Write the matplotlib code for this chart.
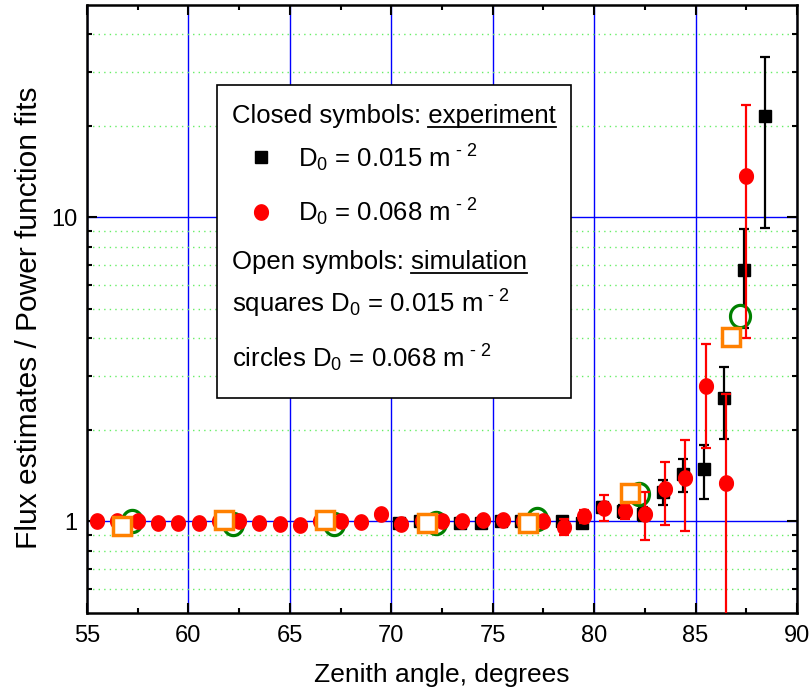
import matplotlib
matplotlib.use("Agg")
import matplotlib.pyplot as plt
from matplotlib.lines import Line2D
from matplotlib.patches import Rectangle
from matplotlib.path import Path
from matplotlib.ticker import FixedLocator, NullFormatter, FixedFormatter
import numpy as np

plt.rcParams["font.family"] = ["Liberation Sans", "DejaVu Sans"]
plt.rcParams["mathtext.fontset"] = "custom"
plt.rcParams["mathtext.rm"] = "Liberation Sans"
plt.rcParams["mathtext.it"] = "Liberation Sans"

# experiment, D0 = 0.015 m^-2 (closed squares)
exp15_x = [70.4, 71.4, 72.4, 73.4, 74.4, 75.4, 76.4, 77.4, 78.4, 79.4,
           80.4, 81.4, 82.4, 83.4, 84.4, 85.4, 86.4, 87.4, 88.4]
exp15_y = [0.99, 1.00, 1.00, 0.99, 0.985, 1.00, 1.00, 1.00, 1.00, 0.985,
           1.12, 1.08, 1.06, 1.25, 1.43, 1.485, 2.55, 6.74, 21.5]
exp15_err = [0.02, 0.02, 0.02, 0.02, 0.02, 0.02, 0.02, 0.02, 0.03, 0.03,
             0.04, 0.05, 0.06, 0.12, 0.18, 0.30, 0.68, 2.4, 12.3]

# experiment, D0 = 0.068 m^-2 (closed circles)
exp68_x = [55.5, 56.5, 57.5, 58.5, 59.5, 60.5, 61.5, 62.5, 63.5, 64.5,
           65.5, 66.5, 67.5, 68.5, 69.5, 70.5, 71.5, 72.5, 73.5, 74.5,
           75.5, 76.5, 77.5, 78.5, 79.5, 80.5, 81.5, 82.5, 83.5, 84.5,
           85.5, 86.5, 87.5]
exp68_y = [1.00, 1.00, 1.00, 0.99, 0.99, 0.99, 1.00, 1.00, 0.99, 0.98,
           0.975, 1.00, 1.00, 0.995, 1.055, 0.98, 1.00, 1.00, 1.00, 1.015,
           1.015, 1.00, 1.00, 0.96, 1.04, 1.11, 1.08, 1.06, 1.275, 1.39,
           2.79, 1.335, 13.7]
exp68_err = [0.01, 0.01, 0.01, 0.01, 0.01, 0.01, 0.01, 0.01, 0.01, 0.01,
             0.01, 0.01, 0.01, 0.01, 0.01, 0.03, 0.03, 0.03, 0.03, 0.03,
             0.03, 0.03, 0.03, 0.06, 0.05, 0.11, 0.06, 0.19, 0.30, 0.46,
             1.05, 1.30, 9.7]

# simulation (open symbols)
sim15_x = [56.75, 61.75, 66.75, 71.75, 76.75, 81.75, 86.75]
sim15_y = [0.97, 1.015, 1.015, 0.99, 0.99, 1.24, 4.05]
sim68_x = [57.2, 62.2, 67.2, 72.2, 77.2, 82.2, 87.2]
sim68_y = [1.0, 0.98, 0.98, 0.985, 1.02, 1.23, 4.75]

x_major = [55, 60, 65, 70, 75, 80, 85, 90]
x_minor = [57.5, 62.5, 67.5, 72.5, 77.5, 82.5, 87.5]
y_major = [1, 10]
y_major_labels = ["1", "10"]
y_minor = [0.6, 0.7, 0.8, 0.9, 2, 3, 4, 5, 6, 7, 8, 9, 20, 30, 40]

# slightly tall ellipse used for the round markers
t = np.linspace(0, 2 * np.pi, 60)
oval = Path(np.column_stack([0.9 * np.cos(t), np.sin(t)]), closed=True)

W, H = 810, 698
fig = plt.figure(figsize=(W / 100, H / 100), dpi=100)
ax = fig.add_axes([87 / W, 1 - 613 / H, 710 / W, 608 / H])
ax.set_yscale("log")
ax.set_xlim(55, 90)
ax.set_ylim(0.5, 50)

ax.xaxis.set_major_locator(FixedLocator(x_major))
ax.xaxis.set_minor_locator(FixedLocator(x_minor))
ax.yaxis.set_major_locator(FixedLocator(y_major))
ax.yaxis.set_major_formatter(FixedFormatter(y_major_labels))
ax.yaxis.set_minor_locator(FixedLocator(y_minor))
ax.yaxis.set_minor_formatter(NullFormatter())

# grids: blue major, dotted light-green minor (horizontal only)
ax.grid(True, which="major", color="#0000ff", lw=1.0, zorder=0)
ax.yaxis.grid(True, which="minor", color="#66ee66", lw=1.0, ls=(0, (1, 3)))
ax.set_axisbelow(True)

for s in ax.spines.values():
    s.set_linewidth(1.8)
ax.tick_params(which="both", direction="in", top=True, right=True, width=1.5)
ax.tick_params(which="major", length=7)
ax.tick_params(which="minor", length=3.8)
ax.tick_params(axis="x", which="major", labelsize=17, pad=9)
ax.tick_params(axis="y", which="major", labelsize=17, pad=7)

# data layers
ax.errorbar(exp15_x, exp15_y, yerr=exp15_err, fmt="s", color="black", ms=8,
            elinewidth=1.6, capsize=3.5, capthick=1.6, zorder=3)
ax.plot(sim68_x, sim68_y, marker=oval, ms=16, mfc="white", mec="#008000",
        mew=2.3, zorder=4, ls="none")
ax.errorbar(exp68_x, exp68_y, yerr=exp68_err, fmt="none", ecolor="#ff0000",
            elinewidth=1.6, capsize=3.5, capthick=1.6, zorder=5)
ax.plot(exp68_x, exp68_y, marker=oval, ms=11, color="#ff0000", ls="none",
        zorder=5)
ax.plot(sim15_x, sim15_y, "s", ms=13.5, mfc="white", mec="#ff8000", mew=2.5,
        zorder=6, ls="none")

ax.set_xlabel("Zenith angle, degrees", fontsize=19, labelpad=11)
ax.set_ylabel("Flux estimates / Power function fits", fontsize=21.5)
ax.yaxis.set_label_coords(-0.062, 0.485)

# legend box
def fx(px):
    return px / W

def fy(py):
    return 1 - py / H

box = Rectangle((fx(217), fy(398)), fx(571) - fx(217), fy(85) - fy(398),
                transform=fig.transFigure, fc="white", ec="black", lw=1.2,
                zorder=10)
fig.add_artist(box)

fs = 18.5
tx = fx(232)
t_closed = fig.text(tx, fy(123), "Closed symbols: experiment", fontsize=fs,
                    va="baseline", zorder=11)
fig.add_artist(Line2D([fx(261)], [fy(157)], marker="s", color="black", ms=8.5,
                      transform=fig.transFigure, zorder=11))
fig.text(fx(298), fy(167), r"D$_0$ = 0.015 m$^{\text{ - 2}}$", fontsize=fs,
         va="baseline", zorder=11)
fig.add_artist(Line2D([fx(261)], [fy(212)], marker=oval, color="#ff0000",
                      ms=11, transform=fig.transFigure, zorder=11))
fig.text(fx(298), fy(221), r"D$_0$ = 0.068 m$^{\text{ - 2}}$", fontsize=fs,
         va="baseline", zorder=11)
t_open = fig.text(tx, fy(269), "Open symbols: simulation", fontsize=fs,
                  va="baseline", zorder=11)
fig.text(tx, fy(313), r"squares D$_0$ = 0.015 m$^{\text{ - 2}}$", fontsize=fs,
         va="baseline", zorder=11)
fig.text(tx, fy(367), r"circles D$_0$ = 0.068 m$^{\text{ - 2}}$", fontsize=fs,
         va="baseline", zorder=11)

# underline the last word of the two headings
fig.canvas.draw()
rend = fig.canvas.get_renderer()
for txt, word, base in [(t_closed, "experiment", 123), (t_open, "simulation", 269)]:
    bb = txt.get_window_extent(rend)
    tmp = fig.text(0, 0, word, fontsize=fs)
    w = tmp.get_window_extent(rend).width
    tmp.remove()
    yy = fy(base + 4)
    fig.add_artist(Line2D([(bb.x1 - w) / W, bb.x1 / W], [yy, yy], color="black",
                          lw=1.3, transform=fig.transFigure, zorder=11))

fig.savefig("out.png", dpi=100)
